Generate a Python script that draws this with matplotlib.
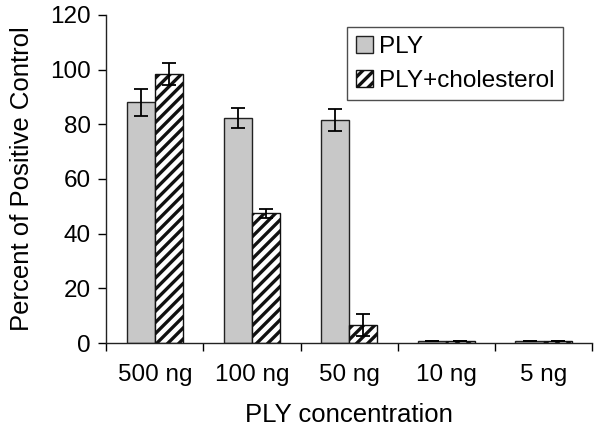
import matplotlib
matplotlib.use("Agg")
import matplotlib.pyplot as plt
import numpy as np

categories = ["500 ng", "100 ng", "50 ng", "10 ng", "5 ng"]
ply = [88, 82.4, 81.6, 0.8, 0.8]
ply_err = [5, 3.6, 4, 0, 0]
chol = [98.4, 47.5, 6.6, 0.8, 0.8]
chol_err = [4, 1.6, 4, 0, 0]

plt.rcParams['font.family'] = ['Liberation Sans', 'DejaVu Sans']
plt.rcParams['hatch.linewidth'] = 2.4

fig = plt.figure(figsize=(6, 4.37), dpi=100)
ax = fig.add_axes([0.177, 0.215, 0.81, 0.751])

x = np.arange(len(categories))
w = 0.29
ax.bar(x - w/2, ply, w, yerr=ply_err, color='#c8c8c8', edgecolor='#222222',
       linewidth=1, capsize=5, error_kw=dict(elinewidth=1.3, capthick=1.3), label='PLY')
ax.bar(x + w/2, chol, w, yerr=chol_err, color='white', edgecolor='#111111',
       hatch='///', linewidth=1, capsize=5, error_kw=dict(elinewidth=1.3, capthick=1.3),
       label='PLY+cholesterol')

ax.set_xlim(-0.5, len(categories) - 0.5)
ax.set_ylim(0, 120)
ax.set_yticks(np.arange(0, 121, 20))
ax.set_xticks(x)
ax.set_xticklabels(categories)
ax.set_xticks(np.arange(-0.5, len(categories), 1), minor=True)
ax.tick_params(axis='x', which='major', length=0, pad=15, labelsize=17.5)
ax.tick_params(axis='x', which='minor', length=6, direction='out', width=1)
ax.tick_params(axis='y', length=6, direction='out', width=1, labelsize=17.5, pad=5)

for s in ['top', 'right']:
    ax.spines[s].set_visible(False)
for s in ['left', 'bottom']:
    ax.spines[s].set_linewidth(1)
    ax.spines[s].set_color('#222222')

ax.set_xlabel('PLY concentration', fontsize=18.5, labelpad=12)
ax.set_ylabel('Percent of Positive Control', fontsize=18.5, labelpad=12)

leg = ax.legend(loc='upper right', bbox_to_anchor=(0.94, 0.963), borderaxespad=0,
                fontsize=17.5, frameon=True, fancybox=False, edgecolor='#222222',
                handlelength=0.7, handleheight=0.7, handletextpad=0.25,
                borderpad=0.35, labelspacing=0.5)
leg.get_frame().set_linewidth(1)

fig.savefig('out.png', dpi=100)
